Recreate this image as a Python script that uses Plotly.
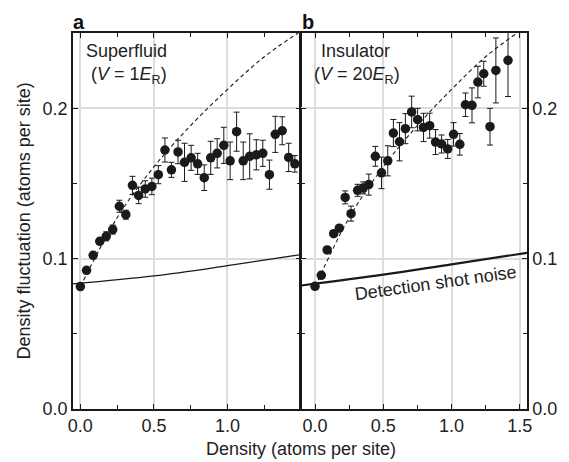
import plotly.graph_objects as go

# panel a: superfluid (V = 1 E_R)
sf_density = [0.000, 0.042, 0.087, 0.132, 0.176, 0.220, 0.265, 0.309, 0.354, 0.396,
              0.441, 0.486, 0.530, 0.575, 0.619, 0.664, 0.708, 0.753, 0.797, 0.842,
              0.886, 0.930, 0.975, 1.018, 1.062, 1.107, 1.151, 1.196, 1.240, 1.285,
              1.325, 1.372, 1.416, 1.458]
sf_fluct = [0.0814, 0.0922, 0.1022, 0.1115, 0.1148, 0.1193, 0.1348, 0.1292, 0.1487, 0.1420,
            0.1463, 0.1480, 0.1558, 0.1722, 0.1590, 0.1709, 0.1640, 0.1670, 0.1630, 0.1538,
            0.1670, 0.1700, 0.1753, 0.1650, 0.1844, 0.1650, 0.1680, 0.1690, 0.1700, 0.1558,
            0.1826, 0.1850, 0.1673, 0.1630]
sf_err = [0.001, 0.002, 0.002, 0.002, 0.003, 0.003, 0.004, 0.003, 0.006, 0.0055,
          0.0055, 0.0055, 0.006, 0.008, 0.005, 0.0078, 0.0127, 0.0083, 0.007, 0.0085,
          0.011, 0.0097, 0.012, 0.0125, 0.013, 0.0125, 0.015, 0.010, 0.0087, 0.0097,
          0.012, 0.0093, 0.0094, 0.0055]

# panel b: insulator (V = 20 E_R)
ins_density = [0.000, 0.046, 0.089, 0.137, 0.178, 0.221, 0.264, 0.312, 0.353, 0.394,
               0.442, 0.487, 0.533, 0.574, 0.619, 0.662, 0.708, 0.752, 0.795, 0.840,
               0.883, 0.927, 0.972, 1.015, 1.061, 1.102, 1.150, 1.193, 1.236, 1.282,
               1.325, 1.414]
ins_fluct = [0.0816, 0.0889, 0.1058, 0.1166, 0.1202, 0.1407, 0.1299, 0.1454, 0.1470, 0.1492,
             0.1680, 0.1570, 0.1650, 0.1835, 0.1777, 0.1864, 0.1975, 0.1924, 0.1872, 0.1884,
             0.1775, 0.1762, 0.1729, 0.1826, 0.1760, 0.2023, 0.2019, 0.2174, 0.2229, 0.1877,
             0.2251, 0.2318]
ins_err = [0.001, 0.002, 0.002, 0.002, 0.002, 0.0043, 0.005, 0.004, 0.004, 0.007,
           0.0066, 0.0105, 0.010, 0.009, 0.0127, 0.010, 0.0105, 0.0075, 0.0094, 0.0083,
           0.0083, 0.006, 0.0063, 0.0078, 0.0072, 0.0078, 0.0116, 0.0105, 0.0083, 0.0122,
           0.0216, 0.024]

# dashed reference curve (same in both panels)
curve_density = [0.0, 0.25, 0.5, 0.75, 1.0, 1.25, 1.48]
curve_fluct = [0.0812, 0.1272, 0.1610, 0.1885, 0.2125, 0.2342, 0.2500]

# detection shot noise
sf_noise_density = [-0.05, 0.5, 1.0, 1.5]
sf_noise = [0.0832, 0.0885, 0.0953, 0.1027]
ins_noise_density = [-0.1, 0.5, 1.0, 1.553]
ins_noise = [0.0821, 0.0893, 0.0962, 0.1038]

FONT = "Liberation Sans, Arial, sans-serif"
INK = "#1a1a1a"

fig = go.Figure()

panels = [
    ("x", "y", sf_density, sf_fluct, sf_err, sf_noise_density, sf_noise, 1.3),
    ("x2", "y2", ins_density, ins_fluct, ins_err, ins_noise_density, ins_noise, 2.2),
]
for xa, ya, dens, fl, err, nd, nv, nw in panels:
    fig.add_trace(go.Scatter(x=curve_density, y=curve_fluct, mode="lines", xaxis=xa, yaxis=ya,
                             line=dict(color=INK, width=1.1, dash="4px,3px", shape="spline"),
                             showlegend=False, hoverinfo="skip"))
    fig.add_trace(go.Scatter(x=nd, y=nv, mode="lines", xaxis=xa, yaxis=ya,
                             line=dict(color=INK, width=nw, shape="spline"),
                             showlegend=False, hoverinfo="skip"))
    fig.add_trace(go.Scatter(x=dens, y=fl, mode="markers", xaxis=xa, yaxis=ya,
                             marker=dict(size=9.5, color=INK),
                             error_y=dict(type="data", array=err, color=INK, thickness=1, width=3),
                             showlegend=False))

axis_common = dict(
    showline=True, linecolor=INK, linewidth=1.5, mirror="ticks",
    ticks="inside", ticklen=5, tickwidth=1, tickcolor=INK,
    showgrid=True, gridcolor="#dcdcdc", gridwidth=1.5, zeroline=False,
    tickfont=dict(size=18, color="#222"), tickformat=".1f",
)

# the page body adds an 8px offset, so the figure is sized to sit inside the window
fig.update_layout(
    width=561, height=454,
    margin=dict(l=65, r=34, t=25, b=53),
    paper_bgcolor="white", plot_bgcolor="white",
    font=dict(family=FONT, color="#222", size=18),
    xaxis=dict(axis_common, domain=[0, 0.501], range=[-0.05, 1.496], anchor="y",
               tickvals=[0, 0.5, 1.0],
               minor=dict(tickvals=[0.25, 0.75, 1.25], ticks="inside", ticklen=4,
                          tickcolor=INK, showgrid=False)),
    xaxis2=dict(axis_common, domain=[0.503, 1], range=[-0.1, 1.553], anchor="y2",
                tickvals=[0, 0.5, 1.0, 1.5],
                minor=dict(tickvals=[0.25, 0.75, 1.25], ticks="inside", ticklen=4,
                           tickcolor=INK, showgrid=False)),
    yaxis=dict(axis_common, domain=[0, 1], range=[0, 0.25], anchor="x",
               tickvals=[0, 0.1, 0.2],
               minor=dict(tickvals=[0.05, 0.15], ticks="inside", ticklen=4,
                          tickcolor=INK, showgrid=False)),
    yaxis2=dict(axis_common, domain=[0, 1], range=[0, 0.25], anchor="x2", side="right",
                tickvals=[0, 0.1, 0.2],
                minor=dict(tickvals=[0.05, 0.15], ticks="inside", ticklen=4,
                           tickcolor=INK, showgrid=False)),
)

notes = [
    dict(text="Density (atoms per site)", xref="paper", yref="paper", x=0.502, y=-0.107,
         xanchor="center", yanchor="middle"),
    dict(text="Density fluctuation (atoms per site)", xref="paper", yref="paper",
         x=-0.107, y=0.5, xanchor="center", yanchor="middle", textangle=-90),
    dict(text="<b>a</b>", xref="paper", yref="paper", x=-0.005, y=1.03,
         xanchor="left", yanchor="middle", font=dict(size=20, color="#111")),
    dict(text="<b>b</b>", xref="paper", yref="paper", x=0.4994, y=1.03,
         xanchor="left", yanchor="middle", font=dict(size=20, color="#111")),
    dict(text="Superfluid", xref="x domain", yref="y domain", x=0.05, y=0.953,
         xanchor="left", yanchor="middle"),
    dict(text="(<i>V</i> = 1<i>E</i><sub>R</sub>)", xref="x domain", yref="y domain",
         x=0.071, y=0.886, xanchor="left", yanchor="middle"),
    dict(text="Insulator", xref="x2 domain", yref="y2 domain", x=0.078, y=0.953,
         xanchor="left", yanchor="middle"),
    dict(text="(<i>V</i> = 20<i>E</i><sub>R</sub>)", xref="x2 domain", yref="y2 domain",
         x=0.049, y=0.886, xanchor="left", yanchor="middle"),
    dict(text="Detection shot noise", xref="x2", yref="y2", x=0.885, y=0.0839,
         xanchor="center", yanchor="middle", textangle=-8),
]
for n in notes:
    fig.add_annotation(showarrow=False, **n)

fig.write_html("out.html")
